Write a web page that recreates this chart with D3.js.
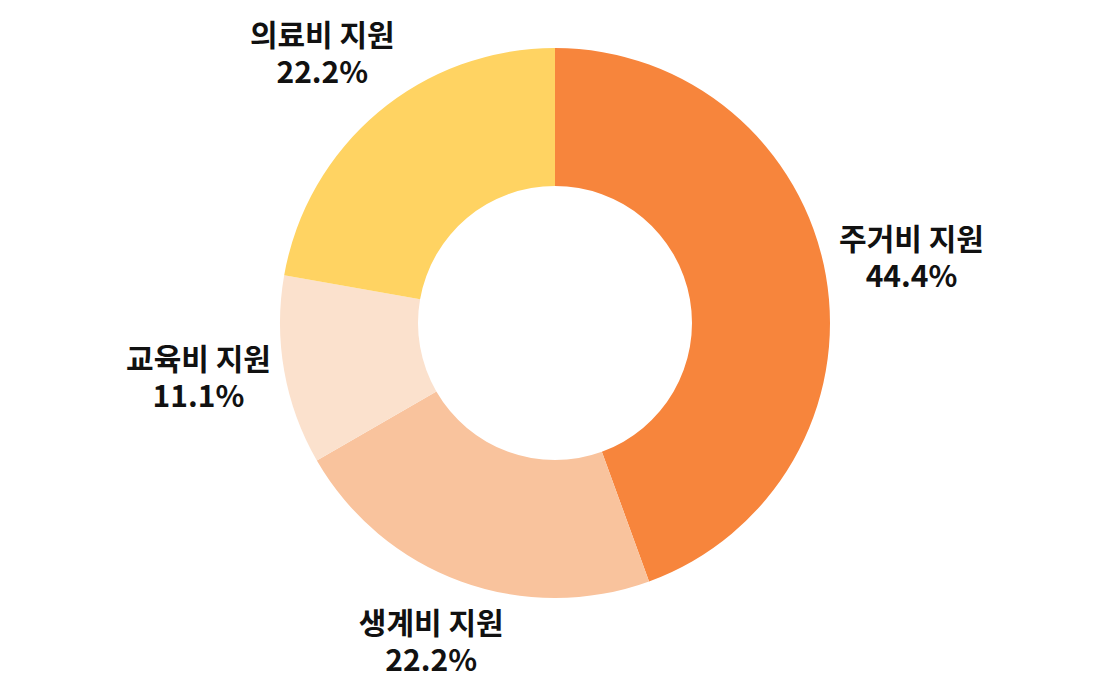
<!DOCTYPE html>
<html>
<head>
<meta charset="utf-8">
<script src="https://cdn.jsdelivr.net/npm/d3@7"></script>
<style>
  body { margin: 0; background: #fff; }
  svg text { font-family: "Noto Sans CJK KR", "Noto Sans", sans-serif; font-weight: 700; fill: #111; }
</style>
</head>
<body>
<svg id="chart" width="1111" height="692"></svg>
<script>
// slice data, clockwise from 12 o'clock
var categories = ['주거비 지원', '생계비 지원', '교육비 지원', '의료비 지원'];
var shares = [44.4, 22.2, 11.1, 22.2];
var shareLabels = ['44.4%', '22.2%', '11.1%', '22.2%'];
var colors = ['#F7853C', '#F9C39D', '#FBE1CD', '#FFD362'];

var svg = d3.select('#chart');
var cx = 555, cy = 323;
var outerR = 275, innerR = 137;
// labels sit on a slightly flattened ring outside the donut
var labelRx = 362, labelRy = 345;

var pie = d3.pie().sort(null).value(function(d) { return d.value; });
var rows = categories.map(function(c, i) {
  return { name: c, value: shares[i], label: shareLabels[i], color: colors[i] };
});
var arcs = pie(rows);

var arc = d3.arc().innerRadius(innerR).outerRadius(outerR);
var unitArc = d3.arc().innerRadius(1).outerRadius(1);

var g = svg.append('g').attr('transform', 'translate(' + cx + ',' + cy + ')');

g.selectAll('path.slice')
  .data(arcs).enter()
  .append('path')
  .attr('class', 'slice')
  .attr('d', arc)
  .attr('fill', function(d) { return d.data.color; });

var labels = g.selectAll('text.lbl')
  .data(arcs).enter()
  .append('text')
  .attr('class', 'lbl')
  .attr('text-anchor', 'middle')
  .attr('font-size', 30)
  .attr('transform', function(d) {
    var c = unitArc.centroid(d);
    return 'translate(' + (c[0] * labelRx) + ',' + (c[1] * labelRy) + ')';
  });

labels.append('tspan')
  .attr('x', 0).attr('y', -13)
  .text(function(d) { return d.data.name; });
labels.append('tspan')
  .attr('x', 0).attr('y', 24)
  .text(function(d) { return d.data.label; });
</script>
</body>
</html>
